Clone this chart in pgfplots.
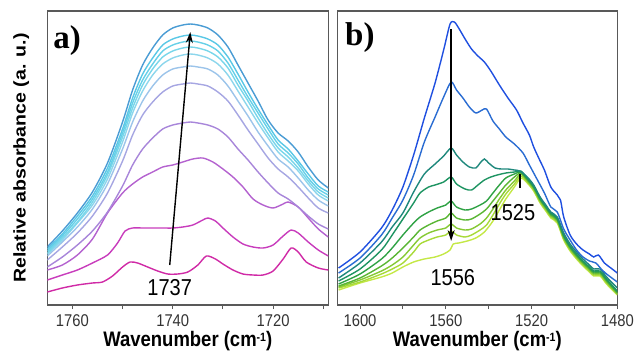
\documentclass[border=0pt]{standalone}
\usepackage{pgfplots}
\pgfplotsset{compat=1.18}
\usepackage{pgfplotstable}
\usepackage{fontspec}
\setmainfont{Liberation Sans}
\newfontfamily\tickfont[FakeStretch=0.87]{Liberation Sans}
\newfontfamily\labfont[FakeStretch=0.88]{Liberation Sans}
\newfontfamily\ylabfont[FakeStretch=1.15]{Liberation Sans}
\newfontfamily\panelfont{Liberation Serif}
\usetikzlibrary{arrows.meta}

\definecolor{a1}{HTML}{D02AA6}
\definecolor{a2}{HTML}{C83CBC}
\definecolor{a3}{HTML}{B462CF}
\definecolor{a4}{HTML}{A886DA}
\definecolor{a5}{HTML}{A6A6E2}
\definecolor{a6}{HTML}{9CC4EA}
\definecolor{a7}{HTML}{8CD6EC}
\definecolor{a8}{HTML}{78D6EA}
\definecolor{a9}{HTML}{66D0E8}
\definecolor{a10}{HTML}{5AC8E6}
\definecolor{a11}{HTML}{4A9CD4}
\definecolor{b1}{HTML}{1F4FE0}
\definecolor{b2}{HTML}{2A6CD2}
\definecolor{b3}{HTML}{1F887C}
\definecolor{b4}{HTML}{1E9462}
\definecolor{b5}{HTML}{2FA244}
\definecolor{b6}{HTML}{5AB634}
\definecolor{b7}{HTML}{86C934}
\definecolor{b8}{HTML}{A8DA38}
\definecolor{b9}{HTML}{C4E846}

\pgfplotstableread{
x c4 c5 c6 c7 c8 c9 c10 c11
1765 38 45 49 51 52 54 56 58
1762 48 58 63 65 67 69 71 74
1759 60 72 78 82 83 86 89 92
1756 74 89 96 100 103 106 109 113
1753 93 112 121 126 130 133 137 142
1750 119 144 156 163 168 172 176 183
1748 140 170 183 192 197 202 207 215
1746 156 190 204 214 220 225 231 240
1744 167 203 219 230 236 241 247 257
1742 176 213 230 241 248 254 260 270
1740 180 219 236 247 254 260 266 277
1738 182 221 238 250 257 263 269 280
1736.5 183 222 239 251 258 264 270 281
1735 182 221 238 250 257 263 269 280
1733 180 219 236 247 254 260 266 277
1731 176 213 230 241 248 254 260 270
1729 168 204 219 230 237 242 248 258
1727 156 190 204 214 220 225 231 240
1725 145 175 189 198 204 208 213 222
1723 133 161 173 182 187 192 196 204
1721 122 147 159 167 171 176 180 185
1719 112 136 146 153 157 161 165 172
1717 106 128 138 144 148 152 156 164
1715 98 118 127 134 137 141 144 153
1713 89 107 115 121 124 127 131 138
1711 81 97 105 110 113 116 119 125
1709 76 92 99 104 107 110 113 117
}\tableA

\pgfplotsset{
  myaxis/.style={
    scale only axis, width=281pt, height=294pt,
    x dir=reverse, ymin=0, ymax=294, ytick=\empty,
    xtick pos=left, tick align=outside,
    major tick length=4pt, minor tick length=4pt,
    every tick/.style={black!65, line width=1pt},
    axis line style={black!65, line width=1.1pt},
    xticklabel style={font=\tickfont\fontsize{17}{20}\selectfont, text=black!80, inner sep=1pt, yshift=-4.5pt},
    xlabel style={font=\labfont\bfseries\fontsize{21}{24}\selectfont, inner sep=0pt, at={(axis description cs:0.5,-0.142)}, anchor=base},
    every axis plot/.append style={line width=1.4pt, smooth, tension=0.45, no markers},
  }
}
\newcommand{\wavelabel}{Wavenumber (cm\raisebox{5.5pt}{\fontsize{12}{12}\selectfont -1})}

\begin{document}
\begin{tikzpicture}
\path[use as bounding box] (0,0) rectangle (636pt,357pt);

\begin{axis}[myaxis, at={(47.3pt,52pt)}, anchor=south west,
  xmin=1709, xmax=1765,
  xtick={1760,1740,1720}, xticklabels={1760,1740,1720},
  minor xtick={1750,1730,1710},
  xlabel={\wavelabel},
  ylabel={Relative absorbance (a. u.)},
  ylabel style={font=\ylabfont\bfseries\fontsize{17}{20}\selectfont, at={(axis description cs:-0.093,0.5)}, anchor=center, rotate=0},
]
\addplot[a1] coordinates {(1765,13) (1762,17) (1759,20) (1756,22) (1754,23) (1752,29) (1750,38) (1748.5,43) (1747,42) (1745,38) (1743,34) (1741,31) (1739,31) (1737,33) (1735,40) (1733.3,49) (1731.5,46) (1730,41) (1728,35) (1726,31) (1724,30) (1722,30) (1720,34) (1718,46) (1716.4,57) (1715,53) (1713.4,43) (1711,37) (1709,35)};
\addplot[a2] coordinates {(1765,25) (1762,30) (1759,35) (1756,42) (1753,50) (1751,62) (1749.5,74) (1748,77) (1746,77) (1744,77) (1742,77) (1740,77) (1738,78) (1736,80) (1734,85) (1733,87) (1731.5,84) (1730,77) (1728,68) (1726,61) (1724,58) (1722,57) (1720,60) (1718,69) (1716.4,75) (1715,72) (1713,63) (1711,55) (1709,49)};
\addplot[a3] coordinates {(1765,35) (1762,40) (1759,50) (1756,66) (1753,92) (1750,112) (1748,121) (1746,128) (1744,133) (1742,138) (1740,140) (1738,143) (1736,146) (1734,147) (1732,143) (1730,136) (1728,128) (1726,118) (1724,106) (1722,100) (1720,97) (1718,101) (1717,103) (1715,98) (1713,87) (1711,76) (1709,68)};
\addplot[a4] table[x=x,y=c4] {\tableA};
\addplot[a5] table[x=x,y=c5] {\tableA};
\addplot[a6] table[x=x,y=c6] {\tableA};
\addplot[a7] table[x=x,y=c7] {\tableA};
\addplot[a8] table[x=x,y=c8] {\tableA};
\addplot[a9] table[x=x,y=c9] {\tableA};
\addplot[a10] table[x=x,y=c10] {\tableA};
\addplot[a11] table[x=x,y=c11] {\tableA};
\draw[-{Stealth[length=11pt,width=7pt]}, line width=1.4pt] (axis cs:1740.6,40) -- (axis cs:1736.5,273);
\node[font=\tickfont\fontsize{23}{26}\selectfont] at (axis cs:1740.6,17) {1737};
\node[font=\panelfont\bfseries\fontsize{33}{36}\selectfont, anchor=base west, inner sep=0pt] at (rel axis cs:0.021,0.874) {a)};
\end{axis}

\begin{axis}[myaxis, at={(337.3pt,52pt)}, anchor=south west, width=280pt,
  xmin=1480, xmax=1610.6,
  xtick={1600,1560,1520,1480}, xticklabels={1600,1560,1520,1480},
  minor xtick={1580,1540,1500},
  xlabel={\wavelabel},
]
\addplot[b9] coordinates {(1610,15) (1600,22) (1590,28) (1585,32) (1580,38) (1575,43) (1570,46) (1565,48) (1561,51) (1558,55) (1556.5,61) (1554,62) (1550,64) (1546,67) (1542,73) (1538,84) (1535,95) (1532,106) (1528,118) (1525,127) (1522,122) (1519,114) (1516,102) (1513,93) (1511,87) (1508,82) (1505,65) (1502,54) (1499,46) (1496,39) (1493,33) (1491,29) (1488,29) (1485,21) (1480,10)};
\addplot[b8] coordinates {(1610,17) (1600,23) (1590,31) (1585,36) (1580,42) (1575,53) (1572,61) (1568,65) (1564,68) (1560,70) (1557.5,74) (1555,70) (1551,68) (1548,70) (1544,75) (1541,80) (1538,90) (1535,101) (1532,111) (1528,121) (1525,129) (1522,123) (1519,115) (1516,103) (1513,94) (1511,88) (1508,83) (1505,66) (1502,55) (1499,47) (1496,40) (1493,34) (1491,30) (1488,30) (1485,22) (1480,11)};
\addplot[b7] coordinates {(1610,18) (1600,25) (1590,34) (1585,40) (1580,48) (1575,60) (1572,67) (1568,72) (1564,75) (1560,77) (1557.5,81) (1555,77) (1551,75) (1548,76) (1544,81) (1541,87) (1538,96) (1535,106) (1532,115) (1528,124) (1525,131) (1522,124) (1519,116) (1516,104) (1513,95) (1511,89) (1508,84) (1505,67) (1502,56) (1499,48) (1496,41) (1493,35) (1491,31) (1488,31) (1485,23) (1480,11)};
\addplot[b6] coordinates {(1610,19) (1600,27) (1590,39) (1585,47) (1580,57) (1575,68) (1572,75) (1568,80) (1564,84) (1560,87) (1557.5,92) (1555,87) (1551,85) (1548,86) (1544,91) (1541,96) (1538,104) (1535,112) (1532,120) (1528,128) (1525,132) (1522,125) (1519,117) (1516,105) (1513,96) (1511,90) (1508,85) (1505,68) (1502,57) (1499,49) (1496,42) (1493,36) (1491,32) (1488,32) (1485,24) (1480,12)};
\addplot[b5] coordinates {(1610,21) (1600,31) (1590,46) (1585,57) (1580,70) (1575,82) (1572,88) (1568,93) (1564,97) (1560,100) (1557.5,104) (1555,98) (1551,95) (1548,96) (1544,100) (1541,104) (1538,112) (1535,120) (1532,127) (1528,131) (1525,133) (1522,126) (1519,118) (1516,106) (1513,97) (1511,91) (1508,86) (1505,69) (1502,58) (1499,50) (1496,43) (1493,37) (1491,33) (1488,33) (1485,25) (1480,13)};
\addplot[b4] coordinates {(1610,24) (1600,36) (1590,55) (1585,70) (1580,86) (1575,102) (1572,112) (1568,118) (1565,120) (1561,123) (1557.5,128) (1555,121) (1551,116) (1548,115) (1545,120) (1542,125) (1539,128) (1536,130) (1532,132) (1528,133) (1525,134) (1522,127) (1519,119) (1516,107) (1513,98) (1511,92) (1508,87) (1505,70) (1502,59) (1499,51) (1496,44) (1493,38) (1491,34) (1488,34) (1485,26) (1480,14)};
\addplot[b3] coordinates {(1610,27) (1600,42) (1590,63) (1585,78) (1580,92) (1575,113) (1570,131) (1565,141) (1561,149) (1557.5,157) (1555,150) (1552,143) (1549,138) (1546,137) (1544,142) (1542,146) (1540,142) (1537,137) (1534,136) (1531,136) (1528,135) (1525.5,134) (1522,128) (1519,120) (1516,108) (1513,99) (1511,93) (1508,88) (1505,72) (1502,61) (1499,53) (1496,46) (1493,40) (1491,36) (1488,36) (1485,28) (1480,17)};
\addplot[b2] coordinates {(1610,32) (1600,47) (1590,70) (1585,87) (1580,105) (1575,130) (1570,163) (1565,188) (1561,208) (1557.5,223) (1555,215) (1552,207) (1549,198) (1546,192) (1543,195) (1541,196) (1538,184) (1535,176) (1532,168) (1528,161) (1524,152) (1521,140) (1518,128) (1514,112) (1511,98) (1508,93) (1505,76) (1502,65) (1499,55) (1496,48) (1493,44) (1490,42) (1487.5,36) (1485,31) (1480,23)};
\addplot[b1] coordinates {(1610,37) (1600,53) (1590,77) (1585,95) (1580,118) (1575,150) (1570,187) (1565,222) (1561,255) (1558,281) (1556,283) (1554,277) (1551,266) (1548,256) (1545,249) (1542,243) (1539,234) (1535,220) (1531,207) (1527,195) (1524,182) (1521,170) (1519,158) (1516,144) (1514,135) (1511,118) (1508,110) (1506.5,105) (1505,88) (1502,70) (1499,61) (1496,55) (1493,51) (1491,48) (1488.8,50) (1486,42) (1483,37) (1480,32)};
\draw[-{Stealth[length=11pt,width=7pt]}, line width=1.4pt] (axis cs:1557.5,276) -- (axis cs:1557.5,64);
\draw[line width=1.6pt] (axis cs:1525.3,117) -- (axis cs:1525.3,131);
\node[font=\tickfont\fontsize{23}{26}\selectfont] at (axis cs:1556.7,27) {1556};
\node[font=\tickfont\fontsize{23}{26}\selectfont] at (axis cs:1528.7,92) {1525};
\node[font=\panelfont\bfseries\fontsize{33}{36}\selectfont, anchor=base west, inner sep=0pt] at (rel axis cs:0.0275,0.881) {b)};
\end{axis}
\end{tikzpicture}
\end{document}
